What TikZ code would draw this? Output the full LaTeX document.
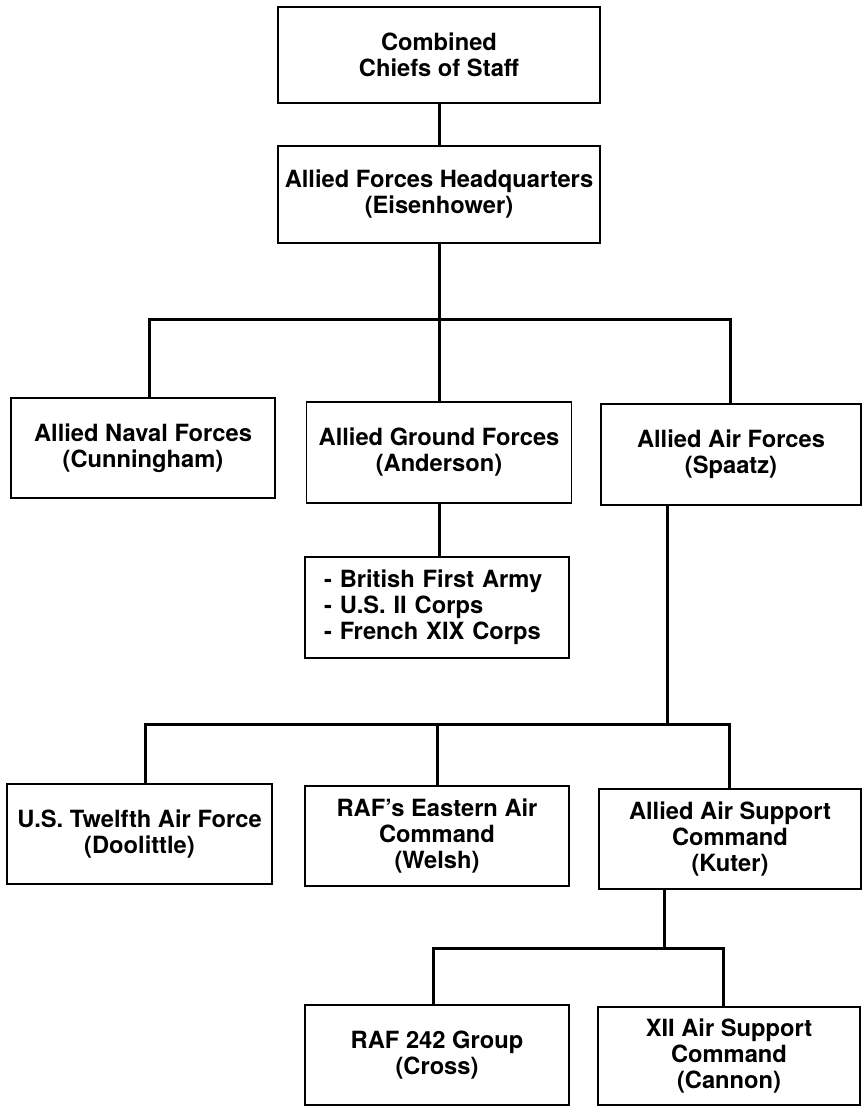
\documentclass[tikz,border=0pt]{standalone}
\usepackage{fontspec}
\setmainfont{TeX Gyre Heros}
\begin{document}
\begin{tikzpicture}[x=1pt,y=1pt,
  box/.style={draw=black, line width=1.8pt, rectangle, align=center, inner sep=0pt,
              font=\bfseries\fontsize{23.7}{26}\selectfont},
  conn/.style={draw=black, line width=3pt, line cap=rect}]
\useasboundingbox[fill=white] (0,0) rectangle (862,-1107);

% tier 0 / 1
\node[box, minimum width=322, minimum height=96] (comb) at (439,-55) {Combined\\Chiefs of Staff};
\node[box, minimum width=322, minimum height=97] (hq) at (439,-194.5) {Allied Forces Headquarters\\(Eisenhower)};

% tier 2
\node[box, minimum width=264, minimum height=100] (naval) at (143,-448) {Allied Naval Forces\\(Cunningham)};
\node[box, minimum width=265, minimum height=101] (ground) at (439,-452.5) {Allied Ground Forces\\(Anderson)};
\node[box, minimum width=260, minimum height=101] (air) at (731,-454.5) {Allied Air Forces\\(Spaatz)};

% ground forces list
\node[box, align=left, text width=226, inner xsep=19, minimum height=101] (brit) at (437,-607.5)
  {- British First Army\\- U.S. II Corps\\- French XIX Corps};

% tier 3
\node[box, minimum width=265, minimum height=100] (usaf) at (139.5,-834) {U.S. Twelfth Air Force\\(Doolittle)};
\node[box, minimum width=264, minimum height=100] (raf) at (437,-836) {RAF's Eastern Air\\Command\\(Welsh)};
\node[box, minimum width=262, minimum height=100] (aasc) at (730,-839) {Allied Air Support\\Command\\(Kuter)};

% tier 4
\node[box, minimum width=264, minimum height=100] (r242) at (437,-1055) {RAF 242 Group\\(Cross)};
\node[box, minimum width=262, minimum height=98] (xii) at (729,-1056) {XII Air Support\\Command\\(Cannon)};

% junction coordinates
\coordinate (b1w) at (149,-319);
\coordinate (b1e) at (730,-319);
\coordinate (b2w) at (145,-724);
\coordinate (b2e) at (729,-724);
\coordinate (b2a) at (667,-724);
\coordinate (b3w) at (433,-948);
\coordinate (b3e) at (723,-948);
\coordinate (b3c) at (664,-948);

% connectors
\draw[conn] (comb.south) -- (hq.north);
\draw[conn] (hq.south) -- (ground.north);
\draw[conn] (naval.north -| b1w) -- (b1w) -- (b1e) -- (air.north -| b1e);
\draw[conn] (ground.south) -- (ground.south |- brit.north);
\draw[conn] (air.south -| b2a) -- (b2a);
\draw[conn] (usaf.north -| b2w) -- (b2w) -- (b2e) -- (aasc.north -| b2e);
\draw[conn] (raf.north) -- (raf.north |- b2w);
\draw[conn] (aasc.south -| b3c) -- (b3c);
\draw[conn] (r242.north -| b3w) -- (b3w) -- (b3e) -- (xii.north -| b3e);
\end{tikzpicture}
\end{document}
